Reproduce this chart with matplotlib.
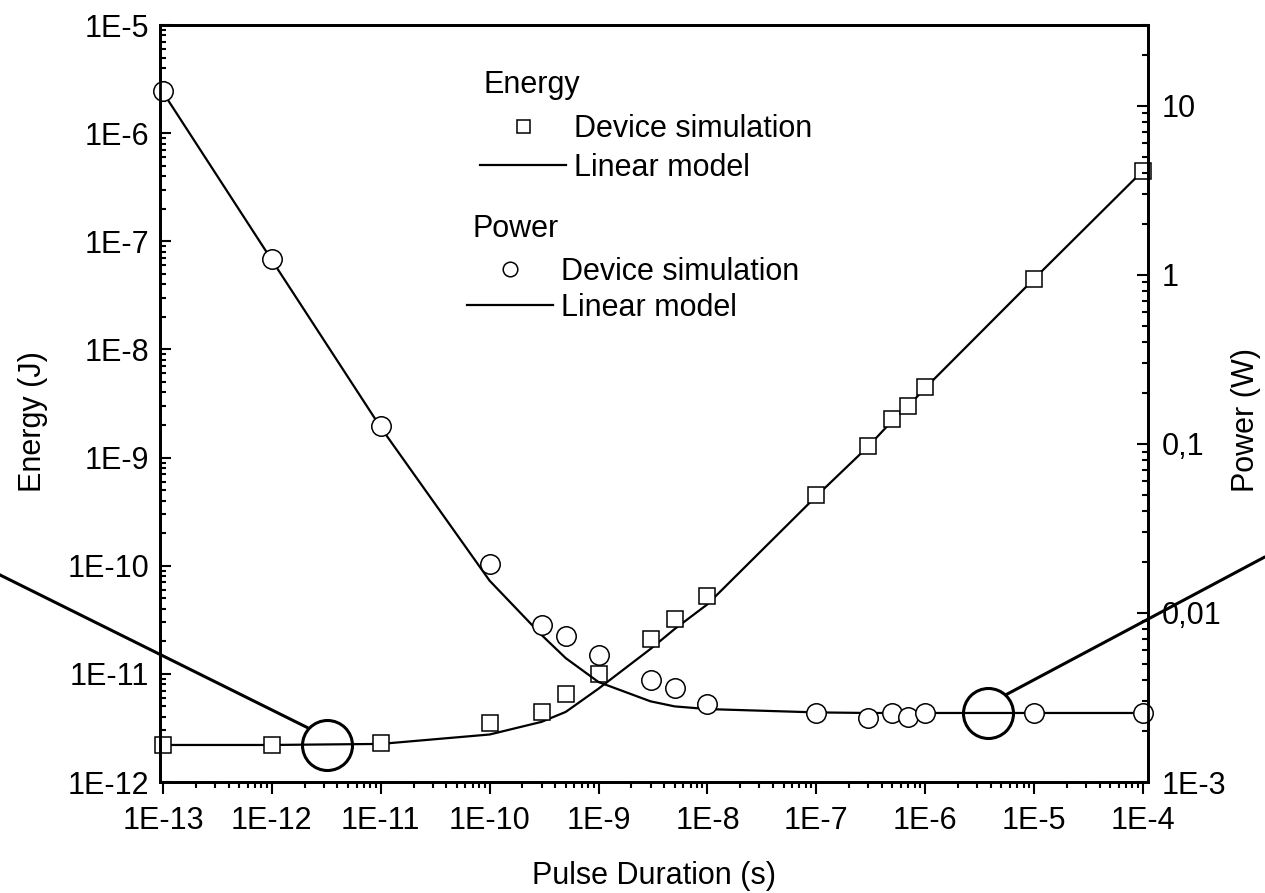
import numpy as np
import matplotlib
matplotlib.use("Agg")
import matplotlib.pyplot as plt
from matplotlib.ticker import FuncFormatter, LogLocator, NullFormatter

plt.rcParams['font.family'] = ['Liberation Sans', 'DejaVu Sans']
plt.rcParams['font.size'] = 22

########################################
#   Data
########################################

pulse = [1e-13, 1e-12, 1e-11, 1e-10, 3e-10, 5e-10, 1e-9, 3e-9, 5e-9, 1e-8,
         1e-7, 3e-7, 5e-7, 7e-7, 1e-6, 1e-5, 1e-4]

# Energy (J) - left axis
energySim = [2.2e-12, 2.2e-12, 2.3e-12, 3.5e-12, 4.4e-12, 6.5e-12, 1.0e-11, 2.1e-11,
             3.2e-11, 5.2e-11, 4.5e-10, 1.27e-9, 2.26e-9, 3.0e-9, 4.5e-9, 4.5e-8, 4.5e-7]
energyModel = [2.2e-12, 2.2e-12, 2.25e-12, 2.75e-12, 3.6e-12, 4.45e-12, 7.3e-12, 1.7e-11,
               2.6e-11, 4.4e-11, 4.4e-10, 1.27e-9, 2.2e-9, 3.0e-9, 4.4e-9, 4.5e-8, 4.5e-7]

# Power (W) - right axis
powerSim = [12.2, 1.24, 0.128, 0.0196, 0.0085, 0.0073, 0.0056, 0.0040, 0.0036, 0.0029,
            0.00256, 0.00240, 0.00256, 0.00243, 0.00256, 0.00256, 0.00256]
powerModel = [12.0, 1.22, 0.125, 0.0155, 0.0074, 0.0054, 0.0039, 0.0030, 0.0028, 0.0027,
              0.00258, 0.00256, 0.00256, 0.00256, 0.00256, 0.00256, 0.00256]

# highlighted points and callout lines (pulse, value)
energyMark = [3.2e-12, 2.2e-12]
energyCallout = [[3.2e-15, 2.1e-12], [8.2e-11, 3.2e-12]]
powerMark = [3.8e-6, 2.56e-3]
powerCallout = [[5.65e-6, 1.29e-3], [3.31e-3, 0.0213]]

########################################
#   Plot
########################################

fig = plt.figure(figsize=(12.65, 8.93), dpi=100)
ax = fig.add_axes([0.1265, 0.1243, 0.781, 0.8477])
ax2 = ax.twinx()

ax.set_xscale('log')
ax.set_yscale('log')
ax2.set_yscale('log')
ax.set_xlim(9.4e-14, 1.11e-4)
ax.set_ylim(1e-12, 1e-5)
ax2.set_ylim(1e-3, 30)

# Energy
eLine, = ax.plot(pulse, energyModel, color='black', lw=1.6, label='Linear model')
eSim, = ax.plot(pulse, energySim, ls='none', marker='s', ms=12, mfc='white', mec='black',
                mew=1.1, clip_on=False, label='Device simulation')
ax.plot(energyMark[0], energyMark[1], marker='o', ms=36, mfc='none', mec='black', mew=2.2)
ax.plot(energyCallout[0], energyCallout[1], color='black', lw=2.2, clip_on=False)

# Power
pLine, = ax2.plot(pulse, powerModel, color='black', lw=1.6, label='Linear model')
pSim, = ax2.plot(pulse, powerSim, ls='none', marker='o', ms=14, mfc='white', mec='black',
                 mew=1.1, clip_on=False, label='Device simulation')
ax2.plot(powerMark[0], powerMark[1], marker='o', ms=36, mfc='none', mec='black', mew=2.2)
ax2.plot(powerCallout[0], powerCallout[1], color='black', lw=2.2, clip_on=False)

# Axes style
for a in (ax, ax2):
    for s in a.spines.values():
        s.set_linewidth(2)

def sciLabel(v, pos):
    return "1E{}".format(int(round(np.log10(v))))

def powLabel(v, pos):
    e = int(round(np.log10(v)))
    if e >= 0:
        return "{}".format(int(round(v)))
    if e == -3:
        return "1E-3"
    return ("%g" % v).replace(".", ",")

ax.xaxis.set_major_locator(LogLocator(base=10, numticks=20))
ax.xaxis.set_minor_locator(LogLocator(base=10, subs=np.arange(2, 10), numticks=20))
ax.xaxis.set_major_formatter(FuncFormatter(sciLabel))
ax.xaxis.set_minor_formatter(NullFormatter())
ax.yaxis.set_major_locator(LogLocator(base=10, numticks=20))
ax.yaxis.set_minor_locator(LogLocator(base=10, subs=np.arange(2, 10), numticks=20))
ax.yaxis.set_major_formatter(FuncFormatter(sciLabel))
ax.yaxis.set_minor_formatter(NullFormatter())
ax2.yaxis.set_major_locator(LogLocator(base=10, numticks=20))
ax2.yaxis.set_minor_locator(LogLocator(base=10, subs=np.arange(2, 10), numticks=20))
ax2.yaxis.set_major_formatter(FuncFormatter(powLabel))
ax2.yaxis.set_minor_formatter(NullFormatter())

ax.tick_params(axis='x', which='major', direction='out', length=8.5, width=1.5, pad=8.5, labelsize=22)
ax.tick_params(axis='x', which='minor', direction='out', length=4.3, width=1.5)
ax.tick_params(axis='y', which='major', direction='in', length=8, width=1.5, pad=8, labelsize=22)
ax.tick_params(axis='y', which='minor', direction='in', length=4.3, width=1.5)
ax2.tick_params(axis='y', which='major', direction='in', length=8, width=1.5, pad=10, labelsize=22)
ax2.tick_params(axis='y', which='minor', direction='in', length=4.3, width=1.5)

ax.set_xlabel("Pulse Duration (s)", fontsize=22, labelpad=18)
ax.set_ylabel("Energy (J)", fontsize=22)
ax2.set_ylabel("Power (W)", fontsize=22)
ax.yaxis.set_label_coords(-0.113, 0.476)
ax2.yaxis.set_label_coords(1.084, 0.478)

# Legends (group titles as plain text)
ax2.text(0.327, 0.910, 'Energy', transform=ax2.transAxes, ha='left', va='baseline', fontsize=22)
ax2.text(0.316, 0.720, 'Power', transform=ax2.transAxes, ha='left', va='baseline', fontsize=22)

leg1 = ax2.legend([eSim, eLine], ['Device simulation', 'Linear model'],
                  loc='upper left', bbox_to_anchor=(0.324, 0.883), frameon=False,
                  fontsize=22, borderpad=0, borderaxespad=0, handlelength=2.8,
                  handletextpad=0.26, labelspacing=0.3, markerscale=0.78)
ax2.add_artist(leg1)
leg2 = ax2.legend([pSim, pLine], ['Device simulation', 'Linear model'],
                  loc='upper left', bbox_to_anchor=(0.311, 0.694), frameon=False,
                  fontsize=22, borderpad=0, borderaxespad=0, handlelength=2.8,
                  handletextpad=0.26, labelspacing=0.2, markerscale=0.75)

plt.savefig("out.png", dpi=100)
